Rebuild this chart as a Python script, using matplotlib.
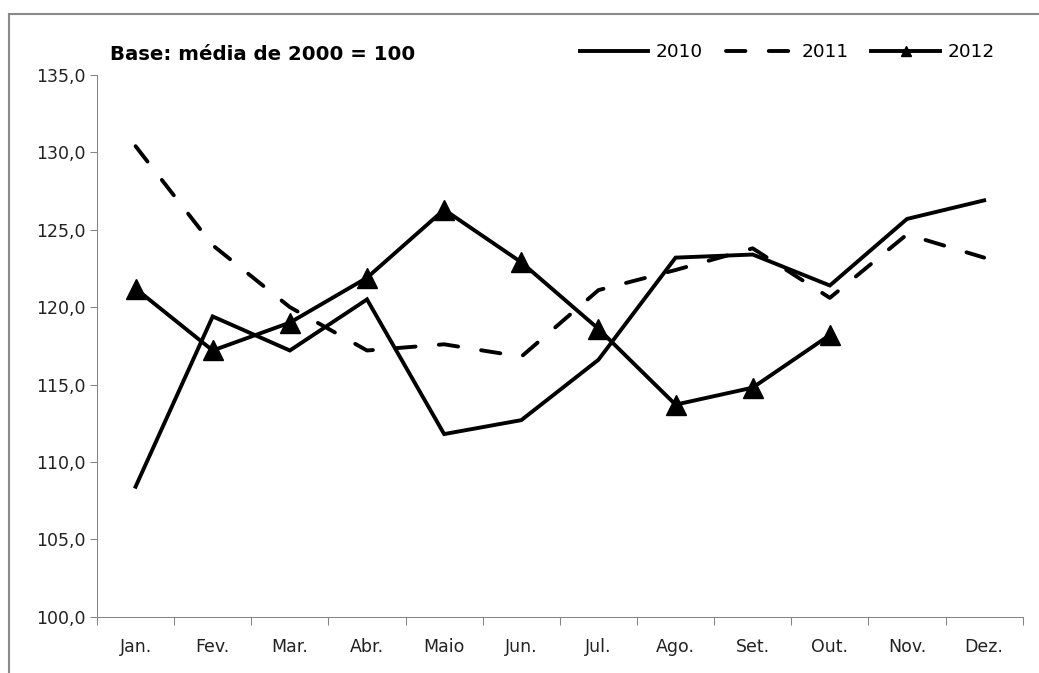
import matplotlib.pyplot as plt
from matplotlib.lines import Line2D

# Dados (índice, base: média de 2000 = 100)
meses = ['Jan.', 'Fev.', 'Mar.', 'Abr.', 'Maio', 'Jun.',
         'Jul.', 'Ago.', 'Set.', 'Out.', 'Nov.', 'Dez.']
serie_2010 = [108.4, 119.4, 117.2, 120.5, 111.8, 112.7,
              116.6, 123.2, 123.4, 121.4, 125.7, 126.9]
serie_2011 = [130.4, 124.0, 120.0, 117.2, 117.6, 116.8,
              121.1, 122.4, 123.8, 120.6, 124.7, 123.2]
serie_2012 = [121.2, 117.2, 119.0, 121.9, 126.3, 122.9,
              118.6, 113.7, 114.8, 118.2]
yticks = [100, 105, 110, 115, 120, 125, 130, 135]

cinza = '#868686'

fig = plt.figure(figsize=(10.39, 6.73), dpi=100)
ax = fig.add_axes([97 / 1039, 56.3 / 673, 925.7 / 1039, 541.7 / 673])

x = list(range(len(meses)))
lw = 2.8
ax.plot(x, serie_2010, color='black', lw=lw, solid_joinstyle='miter', label='2010')
ax.plot(x, serie_2011, color='black', lw=lw, linestyle=(0, (5.0, 6.0)),
        dash_capstyle='round', label='2011')
ax.plot(x[:len(serie_2012)], serie_2012, color='black', lw=lw, marker='^',
        markersize=14.5, label='2012')

ax.set_xlim(-0.5, len(meses) - 0.5)
ax.set_ylim(100, 135)
ax.set_yticks(yticks)
ax.set_yticklabels([f'{v:.1f}'.replace('.', ',') for v in yticks])
ax.set_xticks(x)
ax.set_xticklabels(meses)
ax.set_xticks([i - 0.5 for i in range(len(meses) + 1)], minor=True)

ax.tick_params(axis='y', length=5, width=0.75, color=cinza, pad=3,
               labelsize=12.5, labelcolor='#222222')
ax.tick_params(axis='x', which='major', length=0, pad=15,
               labelsize=12.5, labelcolor='#222222')
ax.tick_params(axis='x', which='minor', length=6, width=0.75, color=cinza)

for s in ['top', 'right']:
    ax.spines[s].set_visible(False)
for s in ['left', 'bottom']:
    ax.spines[s].set_color(cinza)
    ax.spines[s].set_linewidth(0.75)

fig.text(110 / 1039, 1 - 60 / 673, 'Base: média de 2000 = 100',
         fontsize=14.2, fontweight='bold', va='baseline', ha='left')

fig.legend(loc='center', bbox_to_anchor=((578 + 996) / 2 / 1039, 1 - 52 / 673),
           ncol=3, frameon=False, fontsize=13.3, handlelength=3.7,
           handletextpad=0.4, columnspacing=1.25, borderpad=0, markerscale=0.45)

# moldura do gráfico (esquerda e topo)
fig.add_artist(Line2D([9 / 1039, 9 / 1039], [0, 1 - 14 / 673],
                      transform=fig.transFigure, color='#8a8a8a', lw=1.5))
fig.add_artist(Line2D([9 / 1039, 1], [1 - 14 / 673, 1 - 14 / 673],
                      transform=fig.transFigure, color='#8a8a8a', lw=1.5))

fig.savefig('out.png', dpi=100)
